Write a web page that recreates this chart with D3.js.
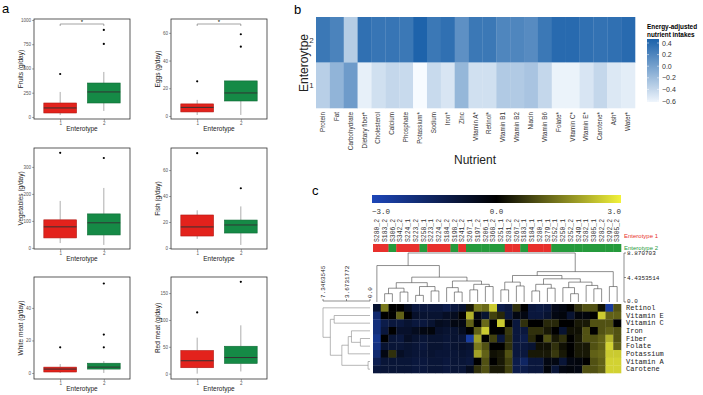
<!DOCTYPE html>
<html><head><meta charset="utf-8">
<script src="https://cdn.jsdelivr.net/npm/d3@7"></script>
<style>body{margin:0;background:#fff}svg{display:block}</style>
</head><body>
<svg id="fig" width="703" height="395"></svg>
<script>
// ================= DATA =================
// Panel a: boxplot stats per enterotype: [whiskerLow, Q1, median, Q3, whiskerHigh]
const enterotypes = ["1", "2"];
const foodTitles = ["Fruits (g/day)", "Eggs (g/day)", "Vegetables (g/day)", "Fish (g/day)", "White meat (g/day)", "Red meat (g/day)"];
const fruitsStats = [[20, 41, 93, 144, 258], [62, 144, 258, 350, 464]];
const fruitsOutliers = [[443], [753, 897]];
const eggsStats = [[0.7, 2.9, 6.2, 8.7, 11.6], [0.7, 10.8, 16.6, 25.3, 25.3]];
const eggsOutliers = [[25], [50, 59]];
const vegStats = [[18, 37, 78, 104, 174], [11, 48, 93, 126, 222]];
const vegOutliers = [[352], [333]];
const fishStats = [[7, 9.2, 16.2, 25.4, 29], [2.3, 11.5, 17.7, 21.5, 32]];
const fishOutliers = [[73], [46]];
const whiteStats = [[0, 0.6, 2.4, 3.6, 5.5], [0, 2.4, 3.6, 6, 7.3]];
const whiteOutliers = [[15.8], [15.8, 23.6, 55]];
const redStats = [[0, 11, 24, 43, 67], [4, 19, 30, 51, 90]];
const redOutliers = [[114], [171]];
const fruitsTicks = [0, 250, 500, 750, 1000];
const eggsTicks = [0, 20, 40, 60];
const vegTicks = [0, 100, 200, 300];
const fishTicks = [0, 20, 40, 60];
const whiteTicks = [0, 20, 40];
const redTicks = [0, 50, 100, 150];
const fruitsDomain = [-21, 1010];
const eggsDomain = [-2.2, 70];
const vegDomain = [-4, 370];
const fishDomain = [-0.8, 77];
const whiteDomain = [-3.7, 59];
const redDomain = [-10, 180];
const significant = [true, true, false, false, false, false];

// Panel b
const nutrients = ["Protein", "Fat", "Carbohydrate", "Dietary fiber*", "Cholesterol", "Calcium", "Phosphate", "Potassium*", "Sodium", "Iron*", "Zinc", "Vitamin A*", "Retinol*", "Vitamin B1", "Vitamin B2", "Niacin", "Vitamin B6", "Folate*", "Vitamin C*", "Vitamin E*", "Carotene*", "Ash*", "Water*"];
const entero2Values = [0.30, 0.22, -0.32, 0.36, 0.32, 0.32, 0.30, 0.45, 0.30, 0.36, 0.12, 0.30, 0.30, 0.20, 0.20, 0.16, 0.30, 0.40, 0.40, 0.36, 0.34, 0.36, 0.40];
const entero1Values = [-0.34, -0.14, 0.04, -0.58, -0.46, -0.40, -0.42, -0.66, -0.42, -0.50, -0.16, -0.46, -0.46, -0.30, -0.30, -0.26, -0.40, -0.60, -0.60, -0.50, -0.40, -0.52, -0.56];
const legendTicks = [0.4, 0.2, 0.0, -0.2, -0.4, -0.6];

// Panel c
const samples = ["S280_2", "S183_2", "S306_2", "S342_2", "S224_1", "S223_2", "S258_1", "S223_1", "S224_2", "S184_2", "S198_2", "S241_2", "S267_1", "S197_2", "S206_1", "S368_2", "S251_1", "S281_2", "S267_2", "S183_1", "S184_1", "S280_1", "S279_1", "S252_1", "S250_1", "S252_2", "S249_1", "S282_1", "S305_1", "S282_2", "S292_2", "S305_2"];
const sampleEnterotype = [1, 1, 2, 1, 1, 1, 2, 1, 1, 1, 2, 1, 2, 2, 2, 2, 2, 1, 1, 2, 1, 1, 1, 2, 2, 2, 2, 2, 2, 2, 2, 2];
const nutrientRows = ["Retinol", "Vitamin E", "Vitamin C", "Iron", "Fiber", "Folate", "Potassium", "Vitamin A", "Carotene"];
const zRetinol = [-0.8, 1.5, 0, 0, -0.5, -1, -1, -1, -1, -1.2, -1, -0.8, 0.3, 1.5, 1.3, 2.5, -1.2, -1, 0.6, 0, -1, -1.1, -1, -0.4, -0.3, 0, 0.6, 1, 1, 0.2, -2.5, 1];
const zVitaminE = [-1.8, 0, 0, 1.2, 0, -0.7, -0.8, -0.8, -0.8, -0.6, -0.5, 0, 2.2, -0.3, -0.8, 0.8, 0.5, -1, -0.3, -0.3, -1, -1, -0.8, -0.3, -0.2, -0.8, -0.2, -0.2, 0, 2.5, 1.2, 1.2];
const zVitaminC = [-2, -1.2, -1, -1, -0.8, -1, -1, -0.8, -0.5, -0.6, -0.3, -0.3, 1.2, 0, 1.3, 0, 2.5, 0, -1, 0.6, 0, 0, 0.5, 0.5, 0, 0, 0.3, 0.3, 1, 1, 1, 0];
const zIron = [-2, -1, 0, -0.7, -0.7, -0.5, -0.3, -0.2, -0.7, -0.8, -0.8, -0.5, 0, 1.2, 2.5, 0, 0, 0.7, -1, -1, 0.6, 0.6, 0.3, 0, -0.8, 0.2, 0.2, 1, 0, 1, 1.2, 1];
const zFiber = [-2.3, 0, -0.9, -1, -0.6, -0.8, -0.9, -0.8, -0.8, -0.9, -0.8, -0.9, -2.6, 2, 0, 0.8, -1, 0.6, -1, -1.2, 0.5, 0, 1, 0.3, 0.6, 0, 0.3, 1, 1, 1.2, 2.2, 1];
const zFolate = [-2.1, -0.8, -0.9, -0.9, -0.8, -0.9, -1, -0.8, -0.8, -0.9, -0.8, -0.7, -0.8, 1.5, 1, 0, 0, 0.6, -1, -1, -0.8, 0.2, 0.2, 0.6, 0.2, 0, 0.3, 0.3, 1, 1.2, 2.6, 1.2];
const zPotassium = [-1.8, -0.3, 0.6, -0.6, -0.8, -0.9, -0.9, -0.8, -0.9, -0.9, -0.9, -0.8, -0.9, 2, 1.2, 0.2, 0.3, 1, -1, -1, 0.3, 0.3, 0.3, 0.7, 0.3, 0, 0.3, 0.3, 1.2, 1.3, 2.5, 2.5];
const zVitaminA = [-1.3, -0.9, -0.9, -0.9, -0.9, -1, -1, -0.9, -0.9, -1, -0.9, -0.9, -1, 0, 1, 0, 0.3, 0.8, -1.2, -1.6, -1, -1, -0.3, -0.3, -0.9, -0.3, -0.2, 0, 1, 1.2, 2.6, 2.6];
const zCarotene = [-1, -0.9, -0.9, -0.9, -0.9, -1, -1, -0.9, -0.9, -1, -0.9, -0.9, -0.5, 0.6, 1, 0.3, 0.3, 0.8, -1.2, -1.2, -1, -1, -0.2, -0.9, -0.3, -0.2, -0.3, 1, 1, 1.2, 2.6, 2.6];
// dendrograms: [height, left, right], leaves = display index
const colTree = [8.870703,
  [6.6, 0, [4.5,
    [3.5, [2.5, [1.5, 1, 2], [1.8, 3, 4]], [2.8, [1.2, 5, 6], [2, 7, 8]]],
    [3.8, [2.6, 9, [1.8, 10, 11]], [3.2, [2.2, 12, 13], [2.8, 14, 15]]]]],
  [5.5,
    [4.8, [3.6, [2.2, 16, 17], [2.9, 18, 19]],
      [4.2, [3.2, [2.0, 20, 21], [2.5, 22, 23]], [3.6, [2.6, 24, [1.5, 25, 26]], [3.0, 27, [2.4, 28, 29]]]]],
    [2.8, 30, 31]]];
const rowTree = [7.3463545, 0, [6.2, [5.6, 1, 2], [4.4, [3.4, [2.9, 3, [1.5, 4, 5]], 6], [0.3, 7, 8]]]];
const colAxisTicks = [0.0, 4.4353514, 8.870703];
const rowAxisTicks = [7.3463545, 3.6731772, 0.0];
const keyTicks = [-3.0, 0.0, 3.0];

// ================= DRAW =================
const svg = d3.select("#fig");
const SANS = "Liberation Sans, Arial, sans-serif";
const MONO = "Liberation Mono, DejaVu Sans Mono, monospace";

function letter(t, x, y) {
  svg.append("text").attr("x", x).attr("y", y).attr("font-family", SANS).attr("font-size", 13).text(t);
}
letter("a", 2, 13); letter("b", 294, 14); letter("c", 312, 195);

// ---- Panel a
const boxPanels = [
  {stats: fruitsStats, out: fruitsOutliers, ticks: fruitsTicks, dom: fruitsDomain},
  {stats: eggsStats, out: eggsOutliers, ticks: eggsTicks, dom: eggsDomain},
  {stats: vegStats, out: vegOutliers, ticks: vegTicks, dom: vegDomain},
  {stats: fishStats, out: fishOutliers, ticks: fishTicks, dom: fishDomain},
  {stats: whiteStats, out: whiteOutliers, ticks: whiteTicks, dom: whiteDomain},
  {stats: redStats, out: redOutliers, ticks: redTicks, dom: redDomain}
];
const colX = [[34, 130], [171, 267]];
const rowY = [[19, 119], [148, 249], [277, 379]];
const fills = ["#e3221c", "#158a46"];
const strokes = ["#b01812", "#0e6a34"];
boxPanels.forEach((p, i) => {
  const [x0, x1] = colX[i % 2], [y0, y1] = rowY[Math.floor(i / 2)];
  const x = d3.scalePoint().domain(enterotypes).range([x0, x1]).padding(0.6);
  const y = d3.scaleLinear().domain(p.dom).range([y1, y0]);
  const g = svg.append("g");
  const bw = x.step() * 0.75;
  const ya = g.append("g").attr("transform", `translate(${x0},0)`)
    .call(d3.axisLeft(y).tickValues(p.ticks).tickSize(2).tickPadding(1).tickFormat(d3.format("d")));
  ya.select(".domain").remove();
  ya.selectAll("line").attr("stroke", "#555").attr("stroke-width", 0.5);
  ya.selectAll("text").attr("font-size", 4.5).attr("fill", "#555").attr("font-family", SANS);
  const xa = g.append("g").attr("transform", `translate(0,${y1})`)
    .call(d3.axisBottom(x).tickSize(2).tickPadding(1));
  xa.select(".domain").remove();
  xa.selectAll("line").attr("stroke", "#555").attr("stroke-width", 0.5);
  xa.selectAll("text").attr("font-size", 4.5).attr("fill", "#555").attr("font-family", SANS);
  enterotypes.forEach((c, j) => {
    const s = p.stats[j], cx = x(c);
    g.append("line").attr("x1", cx).attr("x2", cx).attr("y1", y(s[0])).attr("y2", y(s[1])).attr("stroke", "#999").attr("stroke-width", 0.8);
    g.append("line").attr("x1", cx).attr("x2", cx).attr("y1", y(s[3])).attr("y2", y(s[4])).attr("stroke", "#999").attr("stroke-width", 0.8);
    g.append("rect").attr("x", cx - bw / 2).attr("width", bw).attr("y", y(s[3])).attr("height", Math.max(1, y(s[1]) - y(s[3])))
      .attr("fill", fills[j]).attr("stroke", strokes[j]).attr("stroke-width", 0.6);
    g.append("line").attr("x1", cx - bw / 2).attr("x2", cx + bw / 2).attr("y1", y(s[2])).attr("y2", y(s[2])).attr("stroke", "#333").attr("stroke-width", 1);
    p.out[j].forEach(v => g.append("circle").attr("cx", cx).attr("cy", y(v)).attr("r", 1.1).attr("fill", "#000"));
  });
  g.append("rect").attr("x", x0).attr("y", y0).attr("width", x1 - x0).attr("height", y1 - y0).attr("fill", "none").attr("stroke", "#333").attr("stroke-width", 0.8);
  if (significant[i]) {
    const by = y0 + 5;
    g.append("path").attr("d", `M${x("1")},${by + 2}V${by}H${x("2")}V${by + 2}`).attr("fill", "none").attr("stroke", "#666").attr("stroke-width", 0.6);
    g.append("text").attr("x", (x("1") + x("2")) / 2).attr("y", by - 0.5).attr("text-anchor", "middle").attr("font-size", 6).attr("font-family", SANS).text("*");
  }
  g.append("text").attr("x", (x0 + x1) / 2).attr("y", y1 + 12).attr("text-anchor", "middle").attr("font-size", 6.5).attr("font-family", SANS).attr("fill", "#222").text("Enterotype");
  g.append("text").attr("transform", `translate(${x0 - 11},${(y0 + y1) / 2}) rotate(-90)`).attr("text-anchor", "middle").attr("font-size", 6.5).attr("font-family", SANS).attr("fill", "#222").text(foodTitles[i]);
});

// ---- Panel b
{
  const x = d3.scaleBand().domain(nutrients).range([316, 635]);
  const y = d3.scaleBand().domain(["2", "1"]).range([17, 108]);
  const col = d3.scaleLinear().domain([-0.66, 0.46]).range(["#f7fbff", "#1c62aa"]).clamp(true);
  const rows = [{k: "2", v: entero2Values}, {k: "1", v: entero1Values}];
  rows.forEach(r => {
    svg.append("g").selectAll("rect").data(nutrients).join("rect")
      .attr("x", d => x(d)).attr("y", y(r.k)).attr("width", x.bandwidth() + 0.3).attr("height", y.bandwidth() + 0.3)
      .attr("fill", (d, i) => col(r.v[i]));
  });
  svg.append("g").selectAll("text").data(nutrients).join("text")
    .attr("transform", d => `translate(${x(d) + x.bandwidth() / 2 + 2},112) rotate(-90)`)
    .attr("text-anchor", "end").attr("font-size", 6.3).attr("font-family", SANS).attr("fill", "#333").text(d => d);
  ["2", "1"].forEach(k => svg.append("text").attr("x", 311.5).attr("y", y(k) + y.bandwidth() / 2 + 3).attr("text-anchor", "middle")
    .attr("font-size", 8).attr("font-family", SANS).attr("fill", "#333").text(k));
  svg.append("text").attr("transform", "translate(307.5,63) rotate(-90)").attr("text-anchor", "middle").attr("font-size", 12).attr("font-family", SANS).attr("fill", "#222").text("Enteroytpe");
  svg.append("text").attr("x", 475).attr("y", 164).attr("text-anchor", "middle").attr("font-size", 12).attr("font-family", SANS).attr("fill", "#222").text("Nutrient");
  svg.append("text").attr("x", 647).attr("y", 29).attr("font-size", 6.4).attr("font-weight", "bold").attr("font-family", SANS).text("Energy-adjusted");
  svg.append("text").attr("x", 647).attr("y", 36.5).attr("font-size", 6.4).attr("font-weight", "bold").attr("font-family", SANS).text("nutrient intakes");
  const ly = d3.scaleLinear().domain([0.4, -0.6]).range([43, 101]);
  const defs = svg.append("defs");
  const gr = defs.append("linearGradient").attr("id", "lgb").attr("x1", 0).attr("x2", 0).attr("y1", 0).attr("y2", 1);
  d3.range(0, 1.0001, 0.1).forEach(t => gr.append("stop").attr("offset", t).attr("stop-color", col(ly.invert(39 + t * 63))));
  svg.append("rect").attr("x", 647).attr("y", 39).attr("width", 12).attr("height", 63).attr("fill", "url(#lgb)");
  legendTicks.forEach(v => {
    svg.append("line").attr("x1", 647).attr("x2", 649).attr("y1", ly(v)).attr("y2", ly(v)).attr("stroke", "#fff").attr("stroke-width", 0.5);
    svg.append("line").attr("x1", 657).attr("x2", 659).attr("y1", ly(v)).attr("y2", ly(v)).attr("stroke", "#fff").attr("stroke-width", 0.5);
    svg.append("text").attr("x", 662).attr("y", ly(v) + 2.5).attr("font-size", 7).attr("font-family", SANS).attr("fill", "#333").text(d3.format(".1f")(v));
  });
}

// ---- Panel c
{
  const zRows = [zRetinol, zVitaminE, zVitaminC, zIron, zFiber, zFolate, zPotassium, zVitaminA, zCarotene];
  const x = d3.scaleBand().domain(d3.range(samples.length)).range([373, 621]);
  const y = d3.scaleBand().domain(d3.range(nutrientRows.length)).range([304, 373]);
  const col = d3.scaleLinear().domain([-3, 0, 3]).range(["#1d46b8", "#000000", "#f2f23a"]).clamp(true);
  zRows.forEach((r, i) => {
    svg.append("g").selectAll("rect").data(r).join("rect")
      .attr("x", (d, j) => x(j)).attr("y", y(i)).attr("width", x.bandwidth() + 0.3).attr("height", y.bandwidth() + 0.3)
      .attr("fill", d => col(d));
  });
  const kx = d3.scaleLinear().domain([-3, 3]).range([372, 621]);
  const defs = svg.append("defs");
  const gr = defs.append("linearGradient").attr("id", "kc");
  d3.range(0, 1.0001, 0.05).forEach(t => gr.append("stop").attr("offset", t).attr("stop-color", col(kx.invert(372 + t * 249))));
  svg.append("rect").attr("x", 372).attr("y", 195).attr("width", 249).attr("height", 8).attr("fill", "url(#kc)");
  keyTicks.forEach((v, i) => svg.append("text").attr("x", kx(v)).attr("y", 214)
    .attr("text-anchor", ["start", "middle", "end"][i]).attr("font-size", 7.5).attr("font-family", MONO).attr("fill", "#333").text(d3.format(".1f")(v)));
  svg.append("g").selectAll("text").data(samples).join("text")
    .attr("transform", (d, j) => `translate(${x(j) + x.bandwidth() / 2 + 2.2},242) rotate(-90)`)
    .attr("font-size", 6.4).attr("font-family", MONO).attr("fill", "#333").text(d => d);
  const classCol = {1: "#e8302c", 2: "#259a3c"};
  svg.append("g").selectAll("rect").data(sampleEnterotype).join("rect")
    .attr("x", (d, j) => x(j)).attr("y", 244).attr("width", x.bandwidth() + 0.3).attr("height", 8).attr("fill", d => classCol[d]);
  svg.append("text").attr("x", 624).attr("y", 238).attr("font-size", 6).attr("font-family", SANS).attr("fill", "#e8302c").text("Enterotype 1");
  svg.append("text").attr("x", 624).attr("y", 249.5).attr("font-size", 6).attr("font-family", SANS).attr("fill", "#259a3c").text("Enterotype 2");
  nutrientRows.forEach((n, i) => svg.append("text").attr("x", 626).attr("y", y(i) + y.bandwidth() / 2 + 2.3)
    .attr("font-size", 7).attr("font-family", MONO).attr("fill", "#222").text(n));
  const hy = d3.scaleLinear().domain([0, 8.870703]).range([302, 253]);
  const leafX = j => x(j) + x.bandwidth() / 2;
  function drawCol(node, g) {
    if (typeof node === "number") return {pos: leafX(node), h: 0};
    const a = drawCol(node[1], g), b = drawCol(node[2], g);
    const yy = hy(node[0]);
    g.append("path").attr("d", `M${a.pos},${hy(a.h)}V${yy}H${b.pos}V${hy(b.h)}`).attr("fill", "none").attr("stroke", "#444").attr("stroke-width", 0.6);
    return {pos: (a.pos + b.pos) / 2, h: node[0]};
  }
  drawCol(colTree, svg.append("g"));
  const cg = svg.append("g").attr("transform", "translate(624,0)");
  cg.append("line").attr("x1", 0).attr("x2", 0).attr("y1", hy(0)).attr("y2", hy(8.870703)).attr("stroke", "#444").attr("stroke-width", 0.6);
  colAxisTicks.forEach(v => {
    cg.append("line").attr("x1", 0).attr("x2", 2).attr("y1", hy(v)).attr("y2", hy(v)).attr("stroke", "#444").attr("stroke-width", 0.6);
    cg.append("text").attr("x", 3).attr("y", hy(v) + (v === 0 ? 0.5 : 2)).attr("font-size", 6).attr("font-family", MONO).attr("fill", "#222").text(v === 0 ? "0.0" : String(v));
  });
  const hx = d3.scaleLinear().domain([0, 7.3463545]).range([370, 323]);
  const leafY = i => y(i) + y.bandwidth() / 2;
  function drawRow(node, g) {
    if (typeof node === "number") return {pos: leafY(node), h: 0};
    const a = drawRow(node[1], g), b = drawRow(node[2], g);
    const xx = hx(node[0]);
    g.append("path").attr("d", `M${hx(a.h)},${a.pos}H${xx}V${b.pos}H${hx(b.h)}`).attr("fill", "none").attr("stroke", "#888").attr("stroke-width", 0.6);
    return {pos: (a.pos + b.pos) / 2, h: node[0]};
  }
  drawRow(rowTree, svg.append("g"));
  const rg = svg.append("g").attr("transform", "translate(0,301)");
  rg.append("line").attr("x1", hx(7.3463545)).attr("x2", hx(0)).attr("y1", 0).attr("y2", 0).attr("stroke", "#444").attr("stroke-width", 0.6);
  rowAxisTicks.forEach(v => {
    rg.append("line").attr("x1", hx(v)).attr("x2", hx(v)).attr("y1", 0).attr("y2", -2).attr("stroke", "#444").attr("stroke-width", 0.6);
    rg.append("text").attr("transform", `translate(${hx(v) + 2},-3) rotate(-90)`).attr("font-size", 6).attr("font-family", MONO).attr("fill", "#222").text(v === 0 ? "0.0" : String(v));
  });
}
</script>
</body></html>
